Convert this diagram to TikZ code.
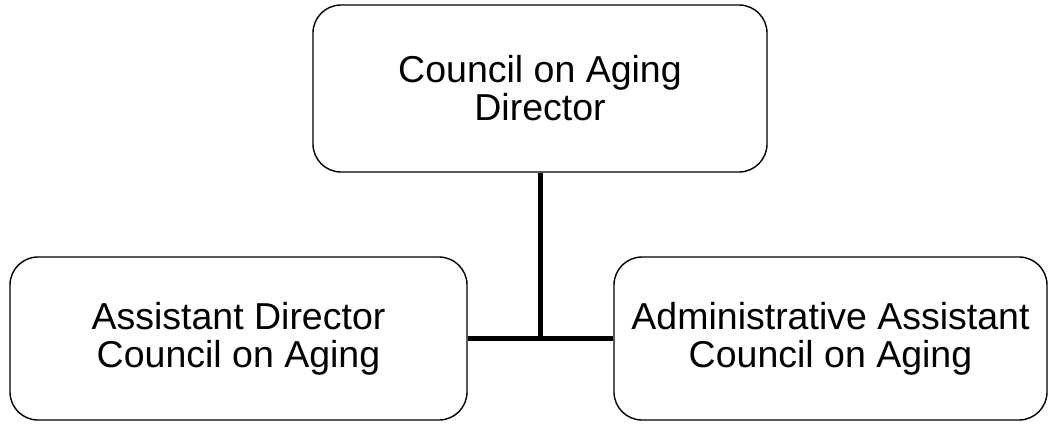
\documentclass[tikz,border=0pt]{standalone}
\usepackage{fontspec}
\setmainfont{Liberation Sans}
\begin{document}
\begin{tikzpicture}[x=1pt,y=-1pt,
  orgbox/.style={draw=black,line width=1.4pt,rounded corners=28pt,fill=white,
    align=center,inner sep=0pt,font=\fontsize{37.5}{38}\selectfont},
  link/.style={line width=5pt,draw=black}]
\useasboundingbox (0,0) rectangle (1053,424);
\node[orgbox,minimum width=454pt,minimum height=167pt] (top) at (540,88.5) {Council on Aging\\Director};
\node[orgbox,minimum width=457pt,minimum height=163pt] (left) at (238.5,338.5) {Assistant Director\\Council on Aging};
\node[orgbox,minimum width=433pt,minimum height=163pt] (right) at (830.5,338.5) {Administrative Assistant\\Council on Aging};
\coordinate (j) at (top.south |- left.east);
\draw[link] (top.south) -- (j);
\draw[link] (left.east) -- (right.west);
\end{tikzpicture}
\end{document}
